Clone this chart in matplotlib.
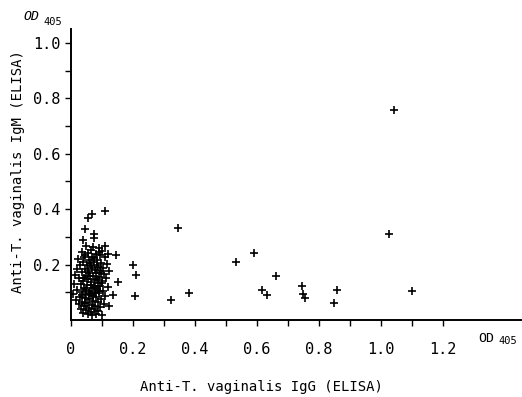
import matplotlib.pyplot as plt

# dense group of low IgG readings
cluster_x = [0.050, 0.072, 0.090, 0.064, 0.101, 0.035, 0.055, 0.081, 0.095, 0.043,
             0.068, 0.110, 0.025, 0.058, 0.086, 0.040, 0.075, 0.098, 0.118, 0.030,
             0.052, 0.066, 0.089, 0.105, 0.020, 0.046, 0.078, 0.094, 0.125, 0.036,
             0.060, 0.083, 0.108, 0.015, 0.049, 0.071, 0.092, 0.115, 0.028, 0.057,
             0.079, 0.100, 0.040, 0.064, 0.087, 0.012, 0.033, 0.053, 0.074, 0.096,
             0.120, 0.044, 0.069, 0.085, 0.022, 0.061, 0.104, 0.037, 0.077, 0.093,
             0.008, 0.050, 0.066, 0.112, 0.029, 0.082, 0.045, 0.098, 0.059, 0.018,
             0.073, 0.038, 0.089, 0.054, 0.107, 0.026, 0.068, 0.080, 0.043, 0.095,
             0.060, 0.032, 0.076, 0.050, 0.088, 0.065, 0.040, 0.083, 0.055, 0.070,
             0.047, 0.062, 0.084, 0.070, 0.055, 0.097, 0.042, 0.086, 0.066, 0.080,
             0.048, 0.090, 0.058, 0.072, 0.035, 0.100, 0.076, 0.091, 0.062, 0.045]
cluster_y = [0.268, 0.262, 0.258, 0.252, 0.249, 0.244, 0.241, 0.238, 0.233, 0.229,
             0.227, 0.226, 0.221, 0.218, 0.215, 0.211, 0.209, 0.206, 0.203, 0.199,
             0.197, 0.194, 0.191, 0.188, 0.185, 0.183, 0.180, 0.177, 0.175, 0.172,
             0.170, 0.168, 0.165, 0.162, 0.160, 0.157, 0.155, 0.152, 0.150, 0.147,
             0.145, 0.142, 0.139, 0.137, 0.134, 0.131, 0.129, 0.126, 0.124, 0.121,
             0.119, 0.116, 0.114, 0.111, 0.108, 0.106, 0.104, 0.101, 0.099, 0.096,
             0.094, 0.092, 0.089, 0.087, 0.084, 0.082, 0.079, 0.077, 0.074, 0.072,
             0.069, 0.066, 0.064, 0.061, 0.059, 0.056, 0.054, 0.051, 0.049, 0.046,
             0.043, 0.041, 0.038, 0.035, 0.032, 0.029, 0.026, 0.023, 0.020, 0.017,
             0.235, 0.205, 0.199, 0.186, 0.176, 0.170, 0.153, 0.148, 0.127, 0.117,
             0.108, 0.104, 0.097, 0.085, 0.089, 0.133, 0.222, 0.246, 0.159, 0.062]

# scattered readings
other_x = [0.111, 0.068, 0.057, 0.046, 0.074, 0.074, 0.039, 0.111, 0.121, 0.146,
           0.202, 0.211, 0.154, 0.207, 0.137, 0.125, 0.100,
           0.345, 0.323, 0.383, 0.532, 0.592, 0.664, 0.617, 0.634, 0.745,
           0.750, 0.756, 0.850, 0.861, 1.044, 1.028, 1.103]
other_y = [0.392, 0.383, 0.367, 0.328, 0.310, 0.296, 0.289, 0.266, 0.239, 0.236,
           0.200, 0.164, 0.137, 0.086, 0.089, 0.050, 0.018,
           0.332, 0.071, 0.097, 0.211, 0.241, 0.157, 0.107, 0.089, 0.122,
           0.093, 0.081, 0.060, 0.107, 0.757, 0.310, 0.104]

xticks = [i / 10 for i in range(13)]
xlabels = ['0', '', '0.2', '', '0.4', '', '0.6', '', '0.8', '', '1.0', '', '1.2']
yticks = [i / 10 for i in range(1, 11)]
ylabels = ['', '0.2', '', '0.4', '', '0.6', '', '0.8', '', '1.0']

mono = 'DejaVu Sans Mono'

fig = plt.figure(figsize=(5.22, 3.97), dpi=100)
ax = fig.add_axes([0.1354, 0.194, 0.8626, 0.733])

ax.plot(cluster_x, cluster_y, '+', color='black', ms=6, mew=1.2)
ax.plot(other_x, other_y, '+', color='black', ms=6, mew=1.2)

ax.set_xlim(0, 1.453)
ax.set_ylim(0, 1.05)
for s in ['top', 'right']:
    ax.spines[s].set_visible(False)
for s in ['left', 'bottom']:
    ax.spines[s].set_linewidth(1.4)

ax.set_xticks(xticks)
ax.set_xticklabels(xlabels, fontfamily=mono, fontsize=11)
ax.set_yticks(yticks)
ax.set_yticklabels(ylabels, fontfamily=mono, fontsize=11)
ax.tick_params(axis='x', direction='out', length=4.5, width=1, pad=11)
ax.tick_params(axis='y', direction='out', length=4.5, width=1, pad=3)

fig.text(0.5, 0.026, 'Anti-T. vaginalis IgG (ELISA)', ha='center', va='center',
         fontfamily=mono, fontsize=10)
fig.text(0.034, 0.569, 'Anti-T. vaginalis IgM (ELISA)', ha='center', va='center',
         rotation=90, fontfamily=mono, fontsize=10)

fig.text(23 / 522, 1 - 17 / 397, 'OD', ha='left', va='center',
         fontfamily=mono, fontsize=9.5, style='italic')
fig.text(43 / 522, 1 - 22 / 397, '405', ha='left', va='center',
         fontfamily=mono, fontsize=7.5)
fig.text(478 / 522, 1 - 338 / 397, 'OD', ha='left', va='center',
         fontfamily=mono, fontsize=9.5)
fig.text(498 / 522, 1 - 341 / 397, '405', ha='left', va='center',
         fontfamily=mono, fontsize=7.5)

fig.savefig('out.png', dpi=100)
